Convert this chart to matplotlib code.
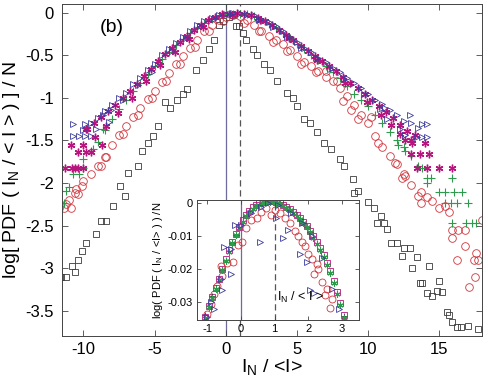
import numpy as np
import matplotlib
matplotlib.use("Agg")
import matplotlib.pyplot as plt

plt.rcParams['font.family'] = ['Liberation Sans', 'DejaVu Sans']
plt.rcParams['mathtext.fontset'] = 'custom'
plt.rcParams['mathtext.rm'] = 'Liberation Sans'
plt.rcParams['mathtext.it'] = 'Liberation Sans:italic'
plt.rcParams['axes.unicode_minus'] = False

# ---- main panel data: (I_N/<I>, log PDF / N) ----
squares_main = [(-12.0, -3.25), (-11.6, -3.10), (-11.2, -3.10), (-10.8, -2.98), (-10.6, -3.05),
                (-10.4, -2.90), (-10.1, -2.80), (-9.8, -2.70), (-9.1, -2.60), (-8.8, -2.45),
                (-8.4, -2.45), (-7.9, -2.27), (-7.4, -2.03), (-7.1, -2.15), (-6.9, -1.88),
                (-6.2, -1.80), (-5.9, -1.62), (-5.5, -1.53), (-5.1, -1.45), (-4.8, -1.33),
                (-4.3, -1.05), (-3.9, -1.12), (-3.4, -1.02), (-3.0, -0.95), (-2.7, -0.90),
                (-2.1, -0.67), (-1.6, -0.55), (-1.2, -0.43), (-0.8, -0.32), (-0.5, -0.14),
                (-0.2, -0.10), (0.2, -0.05), (0.5, -0.03), (0.7, -0.16), (0.9, -0.16),
                (1.2, -0.24), (1.4, -0.32), (1.9, -0.43), (2.2, -0.50), (2.7, -0.60),
                (3.1, -0.67), (3.6, -0.80), (4.3, -0.94), (4.7, -1.00), (5.0, -1.10),
                (5.5, -1.25), (5.9, -1.30), (6.4, -1.40), (6.9, -1.53), (7.4, -1.60),
                (8.0, -1.72), (8.3, -1.80), (8.9, -1.95), (9.0, -2.12), (9.3, -2.10),
                (10.0, -2.22), (10.4, -2.29), (10.6, -2.47), (10.9, -2.39), (11.1, -2.47),
                (11.3, -2.54), (11.6, -2.70), (12.0, -2.70), (12.4, -2.86), (12.5, -2.76),
                (12.9, -2.76), (13.1, -3.00), (13.4, -2.87), (13.6, -3.17), (13.8, -3.17),
                (14.1, -3.29), (14.3, -2.97), (14.5, -3.33), (14.8, -3.27), (15.0, -3.15),
                (15.2, -3.28), (15.5, -3.52), (15.7, -3.55), (15.9, -3.63), (16.2, -3.69),
                (16.5, -3.69), (17.0, -3.68), (17.7, -3.72)]

circles_main = [(-11.0, -2.20), (-10.5, -2.07), (-10.0, -1.98), (-9.5, -1.90), (-9.0, -1.80),
                (-8.5, -1.70), (-8.0, -1.56), (-7.5, -1.44), (-7.0, -1.33), (-6.5, -1.22),
                (-6.0, -1.12), (-5.5, -1.01), (-5.0, -0.92), (-4.5, -0.81), (-4.0, -0.71),
                (-3.5, -0.60), (-3.0, -0.51), (-2.5, -0.41), (-2.0, -0.32), (-1.5, -0.22),
                (-1.0, -0.15), (-0.5, -0.09), (0.0, -0.05), (0.5, -0.03), (1.0, -0.04),
                (1.5, -0.09), (2.0, -0.15), (2.5, -0.21), (3.0, -0.27), (3.5, -0.32),
                (4.0, -0.37), (4.5, -0.44), (5.0, -0.51), (5.5, -0.58), (6.0, -0.63),
                (6.5, -0.69), (7.0, -0.75), (7.5, -0.80), (8.0, -0.88), (8.5, -0.98),
                (9.0, -1.08), (9.5, -1.20), (10.0, -1.30), (10.5, -1.45), (11.0, -1.58),
                (11.5, -1.68), (12.0, -1.78), (12.5, -1.90), (13.0, -2.02), (13.5, -2.15),
                (-11.4, -2.29), (-11.7, -2.30), (-10.9, -2.29), (-11.2, -2.25), (-11.9, -2.57),
                (-11.8, -2.52), (-10.6, -2.12), (-10.1, -2.04), (-10.4, -2.13), (-8.8, -1.80),
                (-8.4, -1.70), (-7.2, -1.42), (-6.2, -1.20), (-5.2, -1.00), (-4.2, -0.80),
                (-3.2, -0.60), (-2.2, -0.40), (-1.2, -0.22), (-0.2, -0.10), (1.3, -0.12),
                (2.3, -0.22), (3.3, -0.34), (4.3, -0.45), (5.3, -0.60), (6.3, -0.70),
                (7.0, -0.68), (7.8, -0.80), (8.2, -1.04), (8.8, -1.14), (9.3, -1.25),
                (10.2, -1.22), (10.7, -1.53), (11.9, -1.76), (12.4, -1.94), (12.6, -1.92),
                (13.7, -2.11), (14.1, -2.17), (13.7, -2.23), (14.5, -2.21), (15.0, -2.29),
                (15.4, -2.27), (15.7, -2.34), (15.9, -2.55), (16.3, -2.55), (16.8, -2.55),
                (15.9, -2.65), (16.8, -2.74), (16.2, -2.90), (17.4, -2.90), (17.7, -2.90),
                (17.6, -2.82), (18.0, -2.43), (17.5, -3.10), (17.1, -3.22)]

plus_main = [(-9.5, -1.62), (-9.0, -1.52), (-8.5, -1.38), (-8.0, -1.25), (-7.5, -1.13),
             (-7.0, -1.02), (-6.5, -0.92), (-6.0, -0.82), (-5.5, -0.72), (-5.0, -0.63),
             (-4.5, -0.54), (-4.0, -0.46), (-3.5, -0.38), (-3.0, -0.31), (-2.5, -0.24),
             (-2.0, -0.18), (-1.5, -0.12), (-1.0, -0.07), (-0.5, -0.04), (0.0, -0.02),
             (0.5, -0.01), (1.0, -0.01), (1.5, -0.02), (2.0, -0.04), (2.5, -0.08),
             (3.0, -0.13), (3.5, -0.18), (4.0, -0.24), (4.5, -0.30), (5.0, -0.37),
             (5.5, -0.43), (6.0, -0.50), (6.5, -0.56), (7.0, -0.63), (7.5, -0.70),
             (8.0, -0.77), (8.5, -0.86), (9.0, -0.95), (9.5, -1.03), (10.0, -1.10),
             (10.5, -1.20), (11.0, -1.30), (11.5, -1.40), (12.0, -1.50), (12.5, -1.58),
             (13.0, -1.68), (13.5, -1.80),
             (-10.0, -1.72), (-10.7, -1.90), (-10.3, -1.90), (-11.6, -2.10), (-11.2, -2.10),
             (-11.4, -2.23), (-11.9, -2.47), (-11.7, -2.00), (-10.0, -1.82), (-9.3, -1.60),
             (-8.6, -1.37), (-11.0, -2.05), (-12.0, -2.20), (14.1, -1.94), (14.4, -1.94),
             (15.9, -1.94), (15.0, -2.11), (15.4, -2.11), (16.0, -2.11), (16.6, -2.11),
             (15.4, -2.24), (15.8, -2.24), (16.2, -2.24), (17.0, -2.24), (15.9, -2.47),
             (16.9, -2.47), (17.3, -2.47), (17.6, -2.47), (13.8, -1.82), (14.1, -2.00),
             (12.1, -1.55), (12.6, -1.62)]

stars_main = [(-9.75, -1.37), (-9.25, -1.30), (-8.75, -1.22), (-8.25, -1.15), (-7.75, -1.08),
              (-7.25, -1.00), (-6.75, -0.92), (-6.25, -0.84), (-5.75, -0.74), (-5.25, -0.66),
              (-4.75, -0.57), (-4.25, -0.49), (-3.75, -0.41), (-3.25, -0.34), (-2.75, -0.27),
              (-2.25, -0.20), (-1.75, -0.14), (-1.25, -0.09), (-0.75, -0.05), (-0.25, -0.02),
              (0.25, -0.01), (0.75, 0.00), (1.25, -0.01), (1.75, -0.03), (2.25, -0.06),
              (2.75, -0.10), (3.25, -0.15), (3.75, -0.20), (4.25, -0.26), (4.75, -0.32),
              (5.25, -0.39), (5.75, -0.45), (6.25, -0.51), (6.75, -0.57), (7.25, -0.63),
              (7.75, -0.69), (8.25, -0.76), (8.75, -0.82), (9.25, -0.89), (9.75, -0.96),
              (10.25, -1.03), (10.75, -1.10), (11.25, -1.17), (11.75, -1.24), (12.25, -1.32),
              (12.75, -1.39), (13.25, -1.44),
              (-12.0, -1.82), (-11.3, -1.82), (-10.8, -1.82), (-10.6, -1.82), (-10.4, -1.82),
              (-10.0, -1.82), (-10.4, -1.64), (-9.8, -1.64), (-9.5, -1.64), (-10.9, -1.55),
              (-10.0, -1.55), (-9.8, -1.37), (-8.7, -1.55), (-9.2, -1.46), (-8.4, -1.33),
              (-7.6, -1.18), (-6.6, -1.00), (-5.6, -0.80), (-4.6, -0.62), (-3.6, -0.46),
              (-2.6, -0.31), (-1.6, -0.17), (0.4, -0.03), (2.4, -0.09), (4.4, -0.30),
              (6.4, -0.56), (8.4, -0.82), (9.9, -1.05), (10.9, -1.20), (11.6, -1.32),
              (12.6, -1.49), (13.0, -1.49), (13.1, -1.53), (14.0, -1.53), (13.0, -1.66),
              (13.6, -1.66), (14.3, -1.66), (13.4, -1.82), (14.1, -1.82), (15.0, -1.82),
              (15.9, -1.82), (12.2, -1.42)]

triangles_main = [(-10.0, -1.38), (-9.5, -1.30), (-9.0, -1.24), (-8.5, -1.15), (-8.0, -1.09),
                  (-7.5, -1.00), (-7.0, -0.94), (-6.5, -0.84), (-6.0, -0.77), (-5.5, -0.67),
                  (-5.0, -0.60), (-4.5, -0.50), (-4.0, -0.43), (-3.5, -0.35), (-3.0, -0.28),
                  (-2.5, -0.22), (-2.0, -0.15), (-1.5, -0.10), (-1.0, -0.06), (-0.5, -0.03),
                  (0.0, -0.01), (0.5, 0.00), (1.0, 0.00), (1.5, -0.01), (2.0, -0.03),
                  (2.5, -0.07), (3.0, -0.11), (3.5, -0.16), (4.0, -0.22), (4.5, -0.28),
                  (5.0, -0.34), (5.5, -0.41), (6.0, -0.46), (6.5, -0.53), (7.0, -0.58),
                  (7.5, -0.65), (8.0, -0.70), (8.5, -0.77), (9.0, -0.82), (9.5, -0.89),
                  (10.0, -0.95), (10.5, -1.02), (11.0, -1.07), (11.5, -1.14), (12.0, -1.20),
                  (12.5, -1.27), (13.0, -1.30), (13.5, -1.36),
                  (-10.7, -1.45), (-10.3, -1.45), (-9.9, -1.45), (-9.5, -1.45), (-10.7, -1.31),
                  (-9.9, -1.31), (-9.1, -1.37), (-8.6, -1.20), (-8.2, -1.28), (-7.2, -1.02),
                  (-8.1, -1.14), (-6.2, -0.85), (-5.2, -0.70), (-3.8, -0.45), (-2.8, -0.30),
                  (-1.8, -0.16), (-0.8, -0.07), (0.3, -0.02), (2.3, -0.08), (3.3, -0.17),
                  (4.3, -0.28), (5.3, -0.42), (6.3, -0.53), (7.3, -0.66), (8.3, -0.78),
                  (9.7, -0.96), (11.2, -1.12), (10.8, -1.13), (11.3, -1.25), (12.2, -1.37),
                  (12.6, -1.44), (12.9, -1.20), (13.4, -1.46), (13.8, -1.46), (14.1, -1.46),
                  (13.8, -1.31), (14.1, -1.31)]

# ---- inset data ----
inset_x = [-1.05, -0.95, -0.85, -0.75, -0.65, -0.55, -0.45, -0.35, -0.25, -0.15, -0.05,
           0.05, 0.15, 0.25, 0.35, 0.45, 0.55, 0.65, 0.75, 0.85, 0.95, 1.05, 1.15, 1.25,
           1.35, 1.45, 1.55, 1.65, 1.75, 1.85, 1.95, 2.05, 2.15, 2.25, 2.35, 2.45, 2.55,
           2.65, 2.75, 2.85, 2.95, 3.05]
inset_squares_y = [-0.0345, -0.0313, -0.0284, -0.0257, -0.0229, -0.0199, -0.0170, -0.0143,
                   -0.0117, -0.0093, -0.0071, -0.0051, -0.0035, -0.0022, -0.0012, -0.0005,
                   0.0000, 0.0003, 0.0006, 0.0007, 0.0006, 0.0004, 0.0001, -0.0004, -0.0010,
                   -0.0017, -0.0025, -0.0034, -0.0045, -0.0057, -0.0070, -0.0084, -0.0100,
                   -0.0118, -0.0137, -0.0157, -0.0180, -0.0206, -0.0236, -0.0268, -0.0302,
                   -0.0340]
inset_stars_y = [-0.0348, -0.0316, -0.0288, -0.0261, -0.0233, -0.0203, -0.0174, -0.0147,
                 -0.0121, -0.0097, -0.0075, -0.0055, -0.0039, -0.0026, -0.0016, -0.0009,
                 -0.0004, 0.0000, 0.0003, 0.0004, 0.0003, 0.0001, -0.0002, -0.0007, -0.0013,
                 -0.0020, -0.0028, -0.0037, -0.0048, -0.0060, -0.0073, -0.0088, -0.0104,
                 -0.0122, -0.0142, -0.0163, -0.0186, -0.0213, -0.0243, -0.0275, -0.0310,
                 -0.0348]
inset_plus_y = [-0.0340, -0.0311, -0.0283, -0.0256, -0.0230, -0.0201, -0.0172, -0.0145,
                -0.0119, -0.0095, -0.0073, -0.0053, -0.0037, -0.0024, -0.0014, -0.0007,
                -0.0002, 0.0001, 0.0004, 0.0005, 0.0004, 0.0002, -0.0001, -0.0006, -0.0012,
                -0.0019, -0.0027, -0.0036, -0.0047, -0.0059, -0.0072, -0.0086, -0.0102,
                -0.0120, -0.0140, -0.0160, -0.0183, -0.0210, -0.0240, -0.0272, -0.0306,
                -0.0343]
inset_circles = [(-1.0, -0.0335), (-0.9, -0.0305), (-0.8, -0.0276), (-0.7, -0.0250),
                 (-0.55, -0.0220), (-0.4, -0.0180), (-0.24, -0.0178), (-0.1, -0.0125),
                 (0.03, -0.0116), (0.15, -0.0075), (0.3, -0.0050), (0.49, -0.0045),
                 (0.6, -0.0025), (0.75, -0.0015), (0.89, -0.0036), (1.0, -0.0020),
                 (1.15, -0.0030), (1.3, -0.0045), (1.45, -0.0060), (1.6, -0.0085),
                 (1.8, -0.0116), (1.9, -0.0130), (2.0, -0.0154), (2.1, -0.0170),
                 (2.17, -0.0214), (2.3, -0.0200), (2.4, -0.0240), (2.5, -0.0280),
                 (2.63, -0.0318), (2.55, -0.0260), (2.7, -0.0290), (-0.6, -0.0190),
                 (1.7, -0.0100), (2.25, -0.0185)]
inset_triangles = [(-1.0, -0.0345), (-0.8, -0.0320), (-0.55, -0.0264), (-0.49, -0.0134),
                   (-0.28, -0.0214), (-0.18, -0.0065), (-0.6, -0.0230), (-0.3, -0.0140),
                   (0.0, -0.0065), (0.3, -0.0030), (0.58, -0.0116), (0.6, -0.0010),
                   (0.8, 0.0000), (1.04, -0.0045), (1.1, -0.0005), (1.25, -0.0104),
                   (1.4, -0.0080), (1.5, -0.0030), (1.74, -0.0154), (1.96, -0.0178),
                   (1.8, -0.0060), (2.05, -0.0264), (2.17, -0.0273), (2.1, -0.0100),
                   (2.4, -0.0165), (2.7, -0.0260), (2.9, -0.0320), (-0.9, -0.0300)]

main_yticks = [0, -0.5, -1, -1.5, -2, -2.5, -3, -3.5]
main_ytick_labels = ['0', '-0.5', '-1', '-1.5', '-2', '-2.5', '-3', '-3.5']
main_xticks = [-10, -5, 0, 5, 10, 15]
inset_yticks = [0, -0.01, -0.02, -0.03]
inset_ytick_labels = ['0', '-0.01', '-0.02', '-0.03']
inset_xticks = [-1, 0, 1, 2, 3]

black = '#3a3a3a'
red = '#d0343c'
green = '#2e9a4c'
magenta = '#b8147e'
blue = '#3c3c9c'
vline_col = '#6c6c9c'
asterisk = (6, 2, 0)


def xy(points):
    arr = np.array(points)
    return arr[:, 0], arr[:, 1]


fig = plt.figure(figsize=(4.89, 3.82), dpi=100)
ax = fig.add_axes([0.127, 0.120, 0.859, 0.869])

ax.axvline(0, color=vline_col, lw=0.9, zorder=1)
ax.axvline(1, color='#555555', lw=0.9, ls=(0, (5, 3)), zorder=1)

x, y = xy(squares_main)
ax.plot(x, y, ls='none', marker='s', ms=4.6, mfc='none', mec=black, mew=0.6)
x, y = xy(circles_main)
ax.plot(x, y, ls='none', marker='o', ms=5.5, mfc='none', mec=red, mew=0.6)
x, y = xy(plus_main)
ax.plot(x, y, ls='none', marker='+', ms=6, mec=green, mew=0.8)
x, y = xy(stars_main)
ax.plot(x, y, ls='none', marker=asterisk, ms=5.5, mec=magenta, mew=1.0)
x, y = xy(triangles_main)
ax.plot(x, y, ls='none', marker='>', ms=5, mfc='none', mec=blue, mew=0.6)

ax.set_xlim(-11.5, 18)
ax.set_ylim(-3.8, 0.1)
ax.set_xticks(main_xticks)
ax.set_xticklabels([str(t) for t in main_xticks])
ax.set_yticks(main_yticks)
ax.set_yticklabels(main_ytick_labels)
ax.tick_params(direction='in', top=True, right=True, labelsize=12, length=4,
               width=0.6, color='#444444')
ax.tick_params(axis='x', pad=4)
ax.tick_params(axis='y', pad=6)
for s in ax.spines.values():
    s.set_linewidth(0.7)
    s.set_color('#444444')
ax.set_xlabel(r'I$_{\rm N}$ / <I>', fontsize=14, labelpad=0)
ax.set_ylabel(r'log[ PDF ( I$_{\rm N}$ / < I > ) ] / N', fontsize=14, labelpad=2)
ax.text(0.119, 0.93, '(b)', transform=ax.transAxes, fontsize=14, ha='center', va='center')

# ---- inset ----
ins = fig.add_axes([0.403, 0.162, 0.331, 0.314])
ins.set_facecolor('white')
ins.axvline(0, color=vline_col, lw=0.9, zorder=1)
ins.axvline(1, color='#555555', lw=0.9, ls=(0, (5, 3)), zorder=1)

ins.plot(inset_x, inset_squares_y, ls='none', marker='s', ms=4, mfc='none', mec=magenta, mew=0.6)
x, y = xy(inset_circles)
ins.plot(x, y, ls='none', marker='o', ms=5, mfc='none', mec=red, mew=0.6)
ins.plot(inset_x, inset_plus_y, ls='none', marker='+', ms=4.5, mec=black, mew=0.6)
ins.plot(inset_x, inset_stars_y, ls='none', marker=asterisk, ms=4.5, mec=green, mew=0.8)
x, y = xy(inset_triangles)
ins.plot(x, y, ls='none', marker='>', ms=4.5, mfc='none', mec=blue, mew=0.6)

ins.set_xlim(-1.3, 3.5)
ins.set_ylim(-0.0355, 0.001)
ins.set_xticks(inset_xticks)
ins.set_xticklabels([str(t) for t in inset_xticks])
ins.set_yticks(inset_yticks)
ins.set_yticklabels(inset_ytick_labels)
ins.tick_params(direction='in', top=True, right=True, labelsize=8, length=3,
                width=0.6, color='#444444', pad=3)
for s in ins.spines.values():
    s.set_linewidth(0.7)
    s.set_color('#444444')
ins.set_ylabel(r'log( PDF ( I$_{\rm N}$ / <I> ) ) /N', fontsize=8, labelpad=2)
ins.text(0.64, 0.19, r'I$_{\rm N}$ / < I >', transform=ins.transAxes, fontsize=9,
         ha='center', va='center')

fig.savefig('out.png', dpi=100)
